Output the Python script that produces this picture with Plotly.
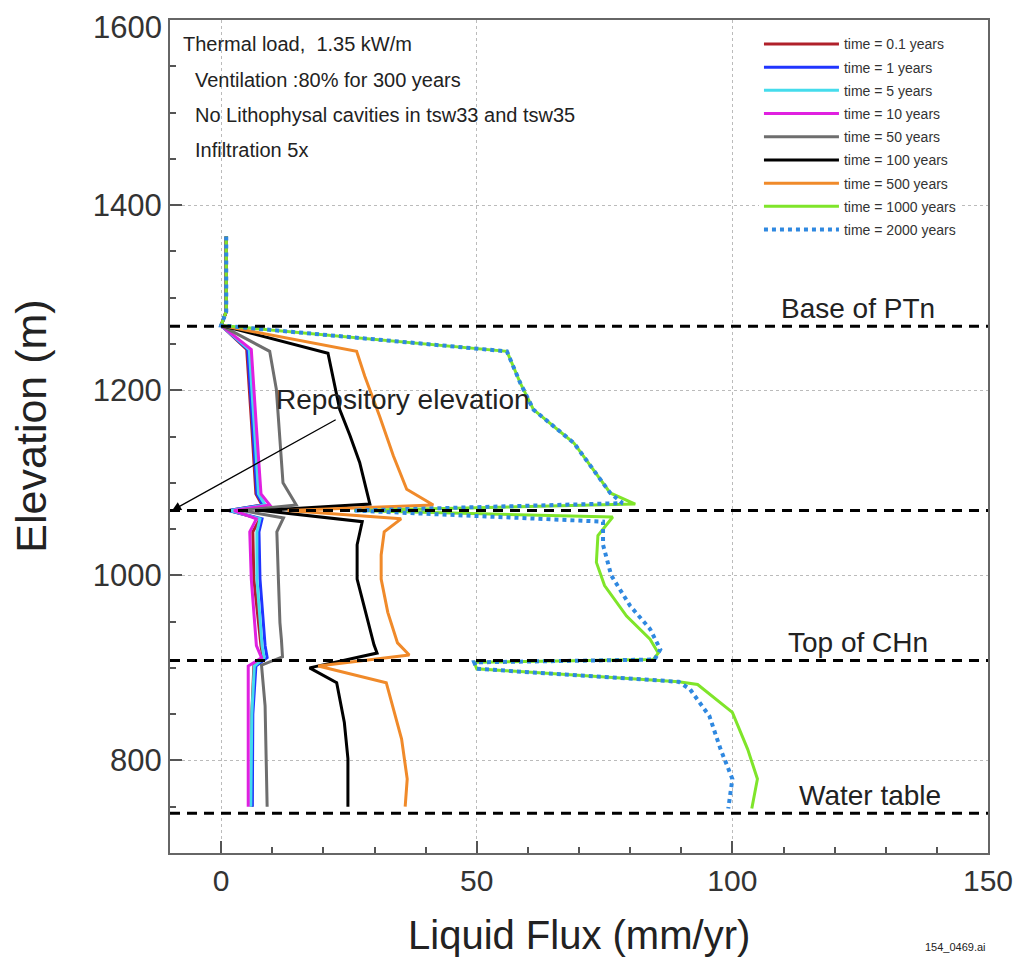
import plotly.graph_objects as go

# ---------------- data ----------------
series_names = ["time = 0.1 years", "time = 1 years", "time = 5 years", "time = 10 years",
                "time = 50 years", "time = 100 years", "time = 500 years",
                "time = 1000 years", "time = 2000 years"]

elev_early = [1366, 1285, 1270, 1244, 1160, 1088, 1076, 1070, 1061, 1047, 996, 924, 911, 902, 850, 750]
flux_01 = [1.0, 1.0, 0.0, 5.0, 6.0, 6.8, 8.0, 1.5, 7.6, 6.2, 6.4, 7.8, 8.2, 6.4, 6.0, 6.0]
flux_1 = [1.0, 1.0, 0.0, 5.2, 6.2, 7.0, 8.2, 1.5, 8.0, 7.4, 7.6, 8.6, 9.0, 6.8, 6.2, 6.1]
flux_5 = [1.0, 1.0, 0.0, 5.5, 6.5, 7.3, 8.6, 1.8, 7.6, 7.0, 7.0, 8.0, 8.4, 6.5, 6.0, 5.8]
flux_10 = [1.0, 1.0, 0.0, 5.9, 6.9, 7.8, 9.5, 2.5, 6.9, 5.6, 5.9, 6.9, 7.9, 5.3, 5.3, 5.3]

elev_50 = [1366, 1285, 1270, 1242, 1201, 1100, 1076, 1070, 1062, 1047, 996, 949, 930, 912, 903, 859, 750]
flux_50 = [1.0, 1.0, 0.0, 9.5, 10.8, 12.1, 14.7, 4.0, 12.2, 10.9, 11.2, 11.5, 11.8, 12.0, 7.9, 8.6, 9.0]

elev_100 = [1366, 1285, 1270, 1240, 1179, 1151, 1122, 1077, 1070, 1058, 1033, 996, 953, 925, 916, 900, 884, 841, 802, 750]
flux_100 = [1.0, 1.0, 0.0, 20.9, 23.2, 25.2, 27.1, 29.1, 8.0, 27.6, 26.6, 26.6, 28.6, 29.9, 30.5, 17.3, 22.6, 24.1, 24.8, 24.8]

elev_500 = [1366, 1285, 1270, 1242, 1215, 1172, 1129, 1093, 1076, 1070, 1061, 1047, 1022, 996, 960, 927, 914, 902, 884, 823, 780, 750]
flux_500 = [1.0, 1.0, 0.0, 26.5, 28.1, 31.0, 33.7, 36.3, 41.5, 13.0, 35.2, 31.9, 31.3, 31.3, 32.6, 34.5, 36.8, 19.0, 32.3, 35.3, 36.4, 36.0]

elev_1000 = [1366, 1285, 1270, 1242, 1208, 1179, 1143, 1089, 1077, 1070, 1063, 1043, 1014, 989, 956, 931, 916, 909, 906, 899, 885, 882, 852, 812, 780, 748]
flux_1000 = [1.0, 1.0, 0.0, 55.9, 58.5, 61.1, 69.0, 76.1, 81.0, 26.0, 76.6, 73.7, 73.4, 75.0, 79.3, 83.9, 85.5, 84.5, 49.5, 50.0, 89.5, 93.2, 100.0, 103.0, 104.9, 103.8]

elev_2000 = [1366, 1285, 1270, 1242, 1208, 1179, 1143, 1089, 1078, 1070, 1058, 1033, 1000, 967, 942, 920, 909, 906, 899, 885, 877, 848, 812, 780, 748]
flux_2000 = [1.0, 1.0, 0.0, 55.9, 58.5, 61.1, 69.0, 76.1, 78.5, 26.0, 74.7, 74.7, 76.3, 80.0, 83.9, 85.9, 84.8, 49.5, 50.0, 89.5, 91.7, 95.5, 97.7, 100.0, 99.2]

boundary_elev = [1269, 1070, 908, 743]
boundary_labels = ["Base of PTn", "", "Top of CHn", "Water table"]
boundary_label_x = [124.5, None, 124.5, 127.0]
boundary_label_elev = [1288, None, 927, 762]

x_ticks = [0, 50, 100, 150]
y_ticks = [800, 1000, 1200, 1400, 1600]
y_tick_text = ["800", "1000", "1200", "1400", ""]   # top label drawn separately so it stays inside the page
y_top_label = "1600"

info_lines = ["Thermal load,  1.35 kW/m", "Ventilation :80% for 300 years",
              "No Lithophysal cavities in tsw33 and tsw35", "Infiltration 5x"]

# ---------------- figure ----------------
series = [
    (flux_01, elev_early, "#b0202a", "solid", 3),
    (flux_1, elev_early, "#2035ff", "solid", 3),
    (flux_5, elev_early, "#45dcec", "solid", 3),
    (flux_10, elev_early, "#e020e0", "solid", 3),
    (flux_50, elev_50, "#6e6e6e", "solid", 3),
    (flux_100, elev_100, "#000000", "solid", 3),
    (flux_500, elev_500, "#f08a2a", "solid", 3),
    (flux_1000, elev_1000, "#7fe52a", "solid", 3),
    (flux_2000, elev_2000, "#2f88e0", "dot", 4),
]

fig = go.Figure()
for i, ((xs, ys, col, dash, w), name) in enumerate(zip(series, series_names)):
    fig.add_trace(go.Scatter(x=xs, y=ys, mode="lines", name=name, legendgroup=f"g{i}",
                             line=dict(color=col, width=w, dash=dash)))

FONT = "Liberation Sans, Arial, sans-serif"

for e in boundary_elev:
    fig.add_shape(type="line", xref="paper", x0=0, x1=1, yref="y", y0=e, y1=e,
                  line=dict(color="black", width=3, dash="10px,7px"), layer="above")

for lab, lx, ly in zip(boundary_labels, boundary_label_x, boundary_label_elev):
    if lab:
        fig.add_annotation(x=lx, y=ly, text=lab, showarrow=False,
                           font=dict(family=FONT, size=28, color="#222"))

# repository elevation label and arrow
fig.add_annotation(x=35.6, y=1190, text="Repository elevation", showarrow=False,
                   font=dict(family=FONT, size=28, color="#222"))
fig.add_annotation(x=-9.6, y=1070, ax=22.7, ay=1169, axref="x", ayref="y",
                   text="", showarrow=True, arrowhead=2, arrowsize=1.4,
                   arrowwidth=1.3, arrowcolor="black")

# info text block
info_y = [0.971, 0.928, 0.886, 0.844]
info_x = [0.014, 0.028, 0.028, 0.028]
for t, yy, xx in zip(info_lines, info_y, info_x):
    fig.add_annotation(xref="paper", yref="paper", x=xx, y=yy, text=t, showarrow=False,
                       xanchor="left", yanchor="middle",
                       font=dict(family=FONT, size=20, color="#222"))

# top y tick label (kept inside the page)
fig.add_annotation(xref="paper", yref="y", x=0, y=y_ticks[-1], text=y_top_label,
                   showarrow=False, xanchor="right", yanchor="top", xshift=-7, yshift=11,
                   borderpad=0, font=dict(family=FONT, size=31, color="#333"))

# axis titles
fig.add_annotation(xref="paper", yref="paper", x=-0.171, y=0.512, text="Elevation (m)",
                   textangle=-90, showarrow=False, xanchor="center", yanchor="middle",
                   font=dict(family=FONT, size=43, color="#222"))
fig.add_annotation(xref="paper", yref="paper", x=0.5, y=-0.098, text="Liquid Flux (mm/yr)",
                   showarrow=False, xanchor="center", yanchor="middle",
                   font=dict(family=FONT, size=40, color="#222"))

fig.add_annotation(xref="paper", yref="paper", x=1.0, y=-0.113, text="154_0469.ai",
                   showarrow=False, xanchor="right", yanchor="middle",
                   font=dict(family=FONT, size=11, color="#222"))

# the page body has an 8 px margin, so the plot area is offset by 8 px here
fig.update_layout(
    width=1021, height=966,
    margin=dict(l=162, r=41, t=12, b=121, autoexpand=False),
    paper_bgcolor="white", plot_bgcolor="white",
    font=dict(family=FONT, color="#333"),
    showlegend=True,
    legend=dict(x=0.72, y=0.99, xanchor="left", yanchor="top",
                bgcolor="white", borderwidth=0,
                font=dict(family=FONT, size=14, color="#333"),
                tracegroupgap=2, itemwidth=75),
)

fig.update_xaxes(range=[-10, 150], tickvals=x_ticks, ticks="inside", ticklen=12,
                 tickwidth=1.5, tickcolor="#555", automargin=False,
                 ticklabeloverflow="allow",
                 showline=True, linecolor="#666", linewidth=2, mirror=True,
                 showgrid=True, gridcolor="#bbbbbb", griddash="dot", gridwidth=1,
                 zeroline=False,
                 minor=dict(dtick=10, ticks="inside", ticklen=6, tickcolor="#555", showgrid=False),
                 tickfont=dict(family=FONT, size=30, color="#333"))
fig.update_yaxes(range=[700, 1600], tickvals=y_ticks, ticktext=y_tick_text,
                 ticks="inside", ticklen=12,
                 tickwidth=1.5, tickcolor="#555", automargin=False,
                 ticklabeloverflow="allow",
                 showline=True, linecolor="#666", linewidth=2, mirror=True,
                 showgrid=True, gridcolor="#bbbbbb", griddash="dot", gridwidth=1,
                 zeroline=False,
                 minor=dict(dtick=50, ticks="inside", ticklen=6, tickcolor="#555", showgrid=False),
                 tickfont=dict(family=FONT, size=31, color="#333"))

fig.write_html("out.html")
